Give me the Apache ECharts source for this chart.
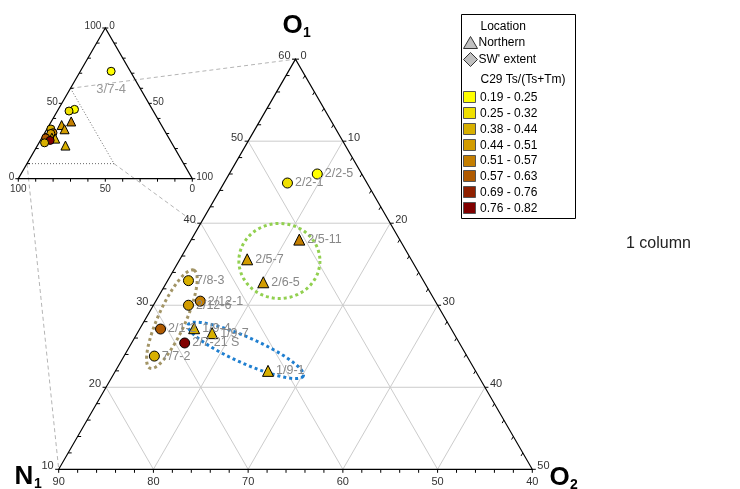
<!DOCTYPE html>
<html>
<head>
<meta charset="utf-8">
<script src="https://cdn.jsdelivr.net/npm/echarts@6/dist/echarts.min.js"></script>
<style>
  html, body { margin: 0; padding: 0; background: #fff; }
  #chart { width: 740px; height: 489px; }
</style>
</head>
<body>
<div id="chart"></div>
<script>
// ---- Sample compositions (N1 + O1 + O2 = 100) ----
const sampleNames = ['3/7-4', '2/2-5', '2/2-1', '2/5-11', '2/5-7', '2/6-5', '7/8-3', '2/12-1',
  '2/12-6', '2/1-2', '1/9-4', '1/9-7', '2/7-21 S', '7/7-2', '1/9-1'];
const n1Values = [11.0, 44.7, 48.4, 50.6, 57.3, 57.0, 64.8, 64.8, 66.3, 70.7, 67.1, 65.5, 69.0, 73.0, 61.9];
const o1Values = [71.3, 46.0, 44.9, 38.0, 35.6, 32.8, 33.0, 30.5, 30.0, 27.1, 27.2, 26.6, 25.4, 23.8, 22.0];
const o2Values = [17.7,  9.3,  6.7, 11.4,  7.1, 10.2,  2.2,  4.7,  3.7,  2.2,  5.7,  7.9,  5.6,  3.2, 16.1];
// 0 = Northern, 1 = SW' extent
const sampleLocation = [1, 1, 1, 0, 0, 0, 1, 1, 1, 1, 0, 0, 1, 1, 0];
// index into the C29 Ts/(Ts+Tm) classes
const sampleRatioClass = [0, 0, 1, 4, 3, 3, 2, 4, 3, 5, 2, 2, 7, 2, 2];

// ---- Legend classes ----
const locationNames = ['Northern', "SW' extent"];
const ratioClassNames = ['0.19 - 0.25', '0.25 - 0.32', '0.38 - 0.44', '0.44 - 0.51',
  '0.51 - 0.57', '0.57 - 0.63', '0.69 - 0.76', '0.76 - 0.82'];
const ratioClassColors = ['#ffff00', '#f0e000', '#d8b000', '#d29c00',
  '#c47e00', '#b05a00', '#8f2000', '#800000'];

// ---- Axis tick labels ----
const mainO1Labels = [10, 20, 30, 40, 50, 60];
const mainO2Labels = [0, 10, 20, 30, 40, 50];
const mainN1Labels = [90, 80, 70, 60, 50, 40];
const insetLabels = [0, 50, 100];

const FONT = '"Liberation Sans", Arial, sans-serif';
const S3 = Math.sqrt(3);

// Ternary views: lower bounds of each component and the side length
const mainView = { n1: 40, o1: 10, o2: 0, span: 50, gridStep: 10, tickStep: 2 };
const insetView = { n1: 0, o1: 0, o2: 0, span: 100, gridStep: 0, tickStep: 10 };

// ternary [N1, O1, O2] -> cartesian (bottom-left vertex at origin)
function toXY(t, v) {
  return [(t[2] - v.o2) + (t[1] - v.o1) / 2, (t[1] - v.o1) * S3 / 2];
}

function line(p, q, style, z2) {
  return { type: 'line', z2: z2 || 0, shape: { x1: p[0], y1: p[1], x2: q[0], y2: q[1] }, style: style };
}
function label(x, y, text, size, align, valign) {
  return { type: 'text', x: x, y: y, z2: 5,
    style: { text: String(text), fill: '#333', fontSize: size, fontFamily: FONT, align: align, verticalAlign: valign } };
}

// Triangle frame, grid, ticks and tick labels for a view
function frameRenderer(v, opt) {
  return function (params, api) {
    const P = t => api.coord(toXY(t, v));
    const s = v.span;
    const top = P([v.n1, v.o1 + s, v.o2]);
    const bl = P([v.n1 + s, v.o1, v.o2]);
    const br = P([v.n1, v.o1, v.o2 + s]);
    const kids = [];
    if (opt.fill) kids.push({ type: 'polygon', z2: 0, shape: { points: [top, bl, br] }, style: { fill: '#fff' } });
    const gridStyle = { stroke: '#cccccc', lineWidth: 1 };
    if (v.gridStep) {
      for (let k = v.gridStep; k < s; k += v.gridStep) {
        const o1 = v.o1 + k, n1 = v.n1 + k, o2 = v.o2 + k;
        kids.push(line(P([100 - o1 - v.o2, o1, v.o2]), P([v.n1, o1, 100 - v.n1 - o1]), gridStyle, 1));
        kids.push(line(P([n1, v.o1, 100 - v.o1 - n1]), P([n1, 100 - n1 - v.o2, v.o2]), gridStyle, 1));
        kids.push(line(P([100 - v.o1 - o2, v.o1, o2]), P([v.n1, 100 - v.n1 - o2, o2]), gridStyle, 1));
      }
    }
    kids.push({ type: 'polygon', z2: 3, shape: { points: [top, bl, br] }, style: { fill: 'none', stroke: '#000', lineWidth: 1.2 } });
    const tl = opt.tickLen;
    const tickStyle = { stroke: '#000', lineWidth: 1 };
    for (let k = 0; k <= s + 1e-9; k += v.tickStep) {
      const major = Math.abs(k % opt.labelStep) < 1e-9;
      // left side (O1)
      const o1 = v.o1 + k;
      const pl = P([100 - o1 - v.o2, o1, v.o2]);
      if (opt.leftTickOut || major) kids.push(line(pl, [pl[0] - tl, pl[1]], tickStyle, 3));
      else kids.push(line(pl, [pl[0] + tl, pl[1]], tickStyle, 3));
      // right side (O2)
      const o2 = v.o2 + k;
      const pr = P([v.n1, 100 - v.n1 - o2, o2]);
      if (opt.rightTickOut || major) kids.push(line(pr, [pr[0] + tl, pr[1]], tickStyle, 3));
      else kids.push(line(pr, [pr[0] - tl * 0.5, pr[1] + tl * 0.866], tickStyle, 3));
      // bottom (N1)
      const n1 = v.n1 + k;
      const pb = P([n1, v.o1, 100 - v.o1 - n1]);
      kids.push(line(pb, [pb[0], pb[1] + tl], tickStyle, 3));
    }
    const fs = opt.fontSize;
    opt.o1Labels.forEach(val => {
      const p = P([100 - val - v.o2, val, v.o2]);
      kids.push(label(p[0] - opt.sideGap, p[1] + opt.sideDy, val, fs, 'right', 'middle'));
    });
    opt.o2Labels.forEach(val => {
      const p = P([v.n1, 100 - v.n1 - val, val]);
      kids.push(label(p[0] + opt.sideGap, p[1] + opt.sideDy, val, fs, 'left', 'middle'));
    });
    opt.n1Labels.forEach(val => {
      const p = P([val, v.o1, 100 - v.o1 - val]);
      kids.push(label(p[0], p[1] + opt.bottomGap, val, fs, 'center', 'top'));
    });
    if (opt.subRegion) {
      const r = opt.subRegion, dot = { stroke: '#6a6a6a', lineWidth: 1, lineDash: [1, 2] };
      const a = P([r.n1, r.o1 + r.span, r.o2]), b = P([r.n1, r.o1, r.o2 + r.span]), c = P([r.n1 + r.span, r.o1, r.o2]);
      kids.push(line(a, b, dot, 2));
      kids.push(line(b, c, dot, 2));
    }
    return { type: 'group', children: kids };
  };
}

function inView(i, v) {
  return n1Values[i] >= v.n1 && o1Values[i] >= v.o1 && o2Values[i] >= v.o2;
}

function pointData(v, mode) {
  const out = [];
  sampleNames.forEach((name, i) => {
    const inMain = inView(i, mainView);
    if (mode === 'main' && !inMain) return;
    const tri = sampleLocation[i] === 0;
    const item = {
      name: name,
      value: toXY([n1Values[i], o1Values[i], o2Values[i]], v),
      symbol: tri ? 'triangle' : 'circle',
      symbolSize: mode === 'main' ? (tri ? 11 : 10) : (tri ? 9 : 8),
      itemStyle: { color: ratioClassColors[sampleRatioClass[i]], borderColor: '#000', borderWidth: 1, opacity: 1 }
    };
    if (mode === 'main') {
      item.label = { show: true, position: 'right', distance: 2, formatter: '{b}',
        color: '#888888', fontSize: 12.5, fontFamily: FONT };
    } else if (!inMain) {
      item.label = { show: true, position: 'bottom', distance: 7, formatter: '{b}',
        color: '#999999', fontSize: 13, fontFamily: FONT };
    }
    out.push(item);
  });
  return out;
}

// Dotted outlines around sample groups (ternary centre, radii in % units, tilt in degrees)
const groupOutlines = [
  { centre: [68.9, 28.3, 2.8], rx: 5.67, ry: 1.45, tilt: 65.8, color: '#a39566' },
  { centre: [54.0, 35.4, 10.6], rx: 4.28, ry: 3.96, tilt: 0, color: '#92d050' },
  { centre: [63.0, 24.5, 12.5], rx: 6.65, ry: 1.37, tilt: -24, color: '#1f7fd0' }
];

function outlineRenderer(params, api) {
  const g = groupOutlines[params.dataIndex];
  const c = api.coord(toXY(g.centre, mainView));
  const unit = api.size([1, 0])[0];
  const a = g.tilt * Math.PI / 180;
  const pts = [];
  for (let k = 0; k < 120; k++) {
    const t = k / 120 * Math.PI * 2;
    const u = g.rx * unit * Math.cos(t), w = g.ry * unit * Math.sin(t);
    pts.push([c[0] + u * Math.cos(a) + w * Math.sin(a), c[1] - u * Math.sin(a) + w * Math.cos(a)]);
  }
  return { type: 'polygon', shape: { points: pts },
    style: { fill: 'none', stroke: g.color, lineWidth: 3, lineDash: [3, 3] } };
}

const chart = echarts.init(document.getElementById('chart'));

const mainH = 473.6 * S3 / 2, insetH = 174 * S3 / 2;
const option = {
  animation: false,
  grid: [
    { left: 58.7, top: 469.3 - mainH, width: 473.6, height: mainH },
    { left: 18.3, top: 178.7 - insetH, width: 174, height: insetH }
  ],
  xAxis: [
    { type: 'value', gridIndex: 0, min: 0, max: mainView.span, show: false },
    { type: 'value', gridIndex: 1, min: 0, max: insetView.span, show: false }
  ],
  yAxis: [
    { type: 'value', gridIndex: 0, min: 0, max: mainView.span * S3 / 2, show: false },
    { type: 'value', gridIndex: 1, min: 0, max: insetView.span * S3 / 2, show: false }
  ],
  series: [
    { type: 'custom', xAxisIndex: 0, yAxisIndex: 0, z: 1, silent: true, clip: false, data: [[0, 0]],
      renderItem: frameRenderer(mainView, { fill: true, tickLen: 3.5, labelStep: 10, fontSize: 11,
        sideGap: 5, sideDy: -3, bottomGap: 7, o1Labels: mainO1Labels, o2Labels: mainO2Labels, n1Labels: mainN1Labels }) },
    { type: 'custom', xAxisIndex: 1, yAxisIndex: 1, z: 1, silent: true, clip: false, data: [[0, 0]],
      renderItem: frameRenderer(insetView, { fill: false, tickLen: 3, labelStep: 50, fontSize: 10,
        leftTickOut: false, rightTickOut: true,
        sideGap: 4, sideDy: -1.5, bottomGap: 6, o1Labels: insetLabels, o2Labels: insetLabels,
        n1Labels: insetLabels, subRegion: mainView }) },
    { type: 'custom', xAxisIndex: 0, yAxisIndex: 0, z: 3, silent: true, clip: false,
      data: groupOutlines.map(() => [0, 0]), renderItem: outlineRenderer },
    { type: 'scatter', xAxisIndex: 0, yAxisIndex: 0, z: 5, silent: true, data: pointData(mainView, 'main') },
    { type: 'scatter', xAxisIndex: 1, yAxisIndex: 1, z: 5, silent: true, data: pointData(insetView, 'inset') }
  ]
};
chart.setOption(option);

// Guide lines joining the zoomed region in the overview to the main diagram
function px(gridIndex, t) {
  return chart.convertToPixel({ gridIndex: gridIndex }, toXY(t, gridIndex === 0 ? mainView : insetView));
}
const s = mainView.span;
const corners = [
  [mainView.n1, mainView.o1 + s, mainView.o2],
  [mainView.n1, mainView.o1, mainView.o2 + s],
  [mainView.n1 + s, mainView.o1, mainView.o2]
];
const graphics = corners.map(t => {
  const a = px(1, t), b = px(0, t);
  return { type: 'line', z: 0, silent: true, shape: { x1: a[0], y1: a[1], x2: b[0], y2: b[1] },
    style: { stroke: '#b4b4b4', lineWidth: 1, lineDash: [4, 3] } };
});

// Vertex titles
function title(x, y, main, sub) {
  graphics.push({ type: 'text', z: 10, x: x, y: y, style: { text: main, fontSize: 26, fontWeight: 'bold',
    fontFamily: FONT, fill: '#000', align: 'left', verticalAlign: 'middle' } });
  graphics.push({ type: 'text', z: 10, x: x + (main === 'N' ? 19.5 : 20.5), y: y + 7, style: { text: sub, fontSize: 14,
    fontWeight: 'bold', fontFamily: FONT, fill: '#000', align: 'left', verticalAlign: 'middle' } });
}
title(282.5, 26, 'O', '1');
title(14.5, 477, 'N', '1');
title(549.5, 478, 'O', '2');

graphics.push({ type: 'text', z: 10, x: 626, y: 244, style: { text: '1 column', fontSize: 16,
  fontFamily: FONT, fill: '#222', align: 'left', verticalAlign: 'middle' } });

// Legend
const lx = 461.5, ly = 14.5;
const legendText = (x, y, text) => ({ type: 'text', z: 11, x: x, y: y,
  style: { text: text, fontSize: 12, fontFamily: FONT, fill: '#000', align: 'left', verticalAlign: 'middle' } });
graphics.push({ type: 'rect', z: 10, shape: { x: lx, y: ly, width: 114, height: 204 },
  style: { fill: '#fff', stroke: '#000', lineWidth: 1 } });
graphics.push(legendText(480.5, 26.5, 'Location'));
graphics.push({ type: 'polygon', z: 11, shape: { points: [[470.5, 36.5], [477.5, 48.5], [463.5, 48.5]] },
  style: { fill: '#c0c0c0', stroke: '#333', lineWidth: 1 } });
graphics.push(legendText(478.5, 43, locationNames[0]));
graphics.push({ type: 'polygon', z: 11, shape: { points: [[470.5, 52.5], [477.5, 59.5], [470.5, 66.5], [463.5, 59.5]] },
  style: { fill: '#c0c0c0', stroke: '#333', lineWidth: 1 } });
graphics.push(legendText(478.5, 59.5, locationNames[1]));
graphics.push(legendText(480.5, 79.5, 'C29 Ts/(Ts+Tm)'));
ratioClassNames.forEach((name, i) => {
  const cy = 97.3 + i * 15.8;
  graphics.push({ type: 'rect', z: 11, shape: { x: 463.5, y: Math.round(cy - 6) + 0.5, width: 12, height: 11 },
    style: { fill: ratioClassColors[i], stroke: '#555', lineWidth: 1 } });
  graphics.push(legendText(480, cy + 0.5, name));
});

chart.setOption({ graphic: graphics });
</script>
</body>
</html>
